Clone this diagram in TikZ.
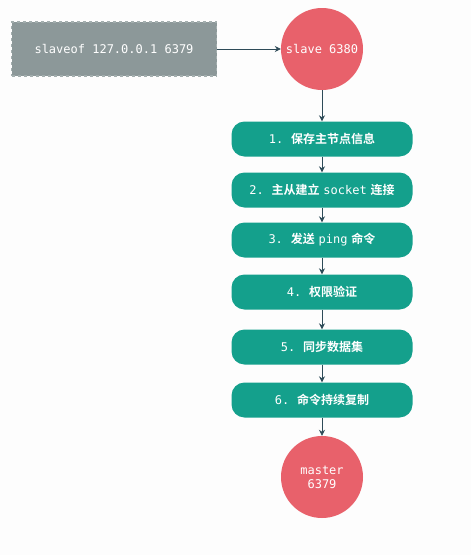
\documentclass[tikz,border=0pt]{standalone}
\usepackage{fontspec}
\setmonofont{DejaVu Sans Mono}
\newfontfamily\cjk{Noto Sans CJK SC}[BoldFont={Noto Sans CJK SC Bold}]
\usetikzlibrary{arrows.meta}
\definecolor{bgc}{HTML}{FDFDFD}
\definecolor{redc}{HTML}{E8616B}
\definecolor{tealc}{HTML}{14A08C}
\definecolor{grayc}{HTML}{8C9899}
\definecolor{grayb}{HTML}{A3AEAE}
\definecolor{arrc}{HTML}{2E4B58}
\tikzset{
  stepbox/.style={fill=tealc, rounded corners=13pt, minimum width=181pt, minimum height=35pt, inner sep=0pt, text=white, font=\fontsize{12}{14}\selectfont},
  redcirc/.style={circle, fill=redc, minimum size=82pt, inner sep=0pt, text=white, font=\ttfamily\fontsize{12}{14}\selectfont, align=center},
  cmdbox/.style={fill=grayc, draw=grayb, dashed, line width=1.5pt, minimum width=205pt, minimum height=54pt, inner sep=0pt, text=white, font=\ttfamily\fontsize{12}{14}\selectfont},
  conn/.style={draw=arrc, line width=0.8pt, -{Stealth[length=6pt,width=6pt]}}
}
\newcommand{\mt}[1]{{\ttfamily #1}}
\newcommand{\zh}[1]{{\cjk\bfseries #1}}
\begin{document}
\begin{tikzpicture}[x=1pt,y=-1pt]
\useasboundingbox[fill=bgc] (0,0) rectangle (471,555);
\node[cmdbox] (cmd) at (114,49) {slaveof 127.0.0.1 6379};
\node[redcirc] (slave) at (322,49) {slave 6380};
\node[stepbox] (s1) at (322,139) {\mt{1.}~~\zh{保存主节点信息}};
\node[stepbox] (s2) at (322,190) {\mt{2.}~~\zh{主从建立}~\mt{socket}~\zh{连接}};
\node[stepbox] (s3) at (322,240) {\mt{3.}~~\zh{发送}~\mt{ping}~\zh{命令}};
\node[stepbox] (s4) at (322,292) {\mt{4.}~~\zh{权限验证}};
\node[stepbox] (s5) at (322,347) {\mt{5.}~~\zh{同步数据集}};
\node[stepbox] (s6) at (322,400) {\mt{6.}~~\zh{命令持续复制}};
\node[redcirc] (master) at (322,477) {master\\6379};
\draw[conn] (cmd) -- (slave);
\draw[conn] (slave) -- (s1);
\draw[conn] (s1) -- (s2);
\draw[conn] (s2) -- (s3);
\draw[conn] (s3) -- (s4);
\draw[conn] (s4) -- (s5);
\draw[conn] (s5) -- (s6);
\draw[conn] (s6) -- (master);
\end{tikzpicture}
\end{document}
